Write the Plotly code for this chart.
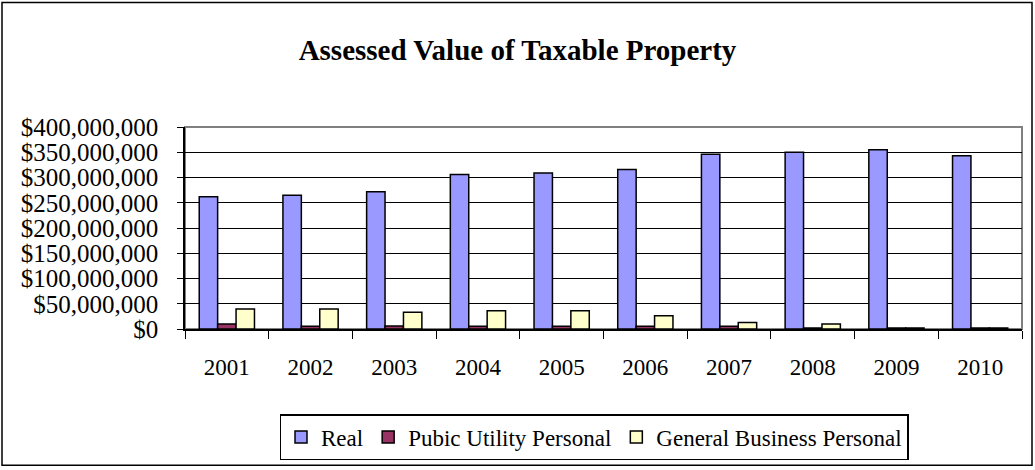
import plotly.graph_objects as go

years = ["2001", "2002", "2003", "2004", "2005", "2006", "2007", "2008", "2009", "2010"]
real = [262e6, 265e6, 272e6, 306e6, 309e6, 316e6, 346e6, 350e6, 355e6, 343e6]
public_utility = [10e6, 5.5e6, 6e6, 5.5e6, 5.5e6, 5.5e6, 5.5e6, 2e6, 2e6, 2e6]
general_business = [39.5e6, 39.5e6, 33e6, 36e6, 36e6, 26e6, 13e6, 10e6, 2e6, 2e6]
y_ticks = [0, 50e6, 100e6, 150e6, 200e6, 250e6, 300e6, 350e6, 400e6]
y_tick_labels = ["$0", "$50,000,000", "$100,000,000", "$150,000,000", "$200,000,000",
                 "$250,000,000", "$300,000,000", "$350,000,000", "$400,000,000"]

FONT = "Liberation Serif"
W, H = 1035, 470
ML, MR, MT, MB = 185, 13, 127, 140
pw, ph = W - ML - MR, H - MT - MB

fig = go.Figure()
for name, vals, col in [("Real", real, "#9999FF"),
                        ("Pubic Utility Personal", public_utility, "#993366"),
                        ("General Business Personal", general_business, "#FFFFCC")]:
    fig.add_trace(go.Bar(x=years, y=vals, name=name, marker_color=col,
                         marker_line_color="black", marker_line_width=1.5))

def px_to_paper_x(px):
    return (px - ML) / pw

def px_to_paper_y(py):
    return (H - MB - py) / ph

fig.update_layout(
    width=W, height=H,
    margin=dict(l=ML, r=MR, t=MT, b=MB),
    paper_bgcolor="white", plot_bgcolor="white",
    font=dict(family=FONT, color="black", size=20),
    title=dict(text="<b>Assessed Value of Taxable Property</b>",
               font=dict(family=FONT, size=29, color="black"),
               x=0.5, xanchor="center", y=1 - 50 / H, yanchor="middle"),
    barmode="group", bargap=0.34, bargroupgap=0,
    showlegend=True,
    legend=dict(orientation="h", x=px_to_paper_x(594), xanchor="center",
                y=px_to_paper_y(414), yanchor="top",
                bordercolor="black", borderwidth=1.5,
                font=dict(family=FONT, size=23, color="black"),
                itemwidth=30, traceorder="normal"),
    xaxis=dict(type="category", showgrid=False, showline=True, linecolor="black",
               linewidth=1.5, ticks="outside", ticklen=8, tickcolor="black",
               tickson="boundaries", tickfont=dict(family=FONT, size=23),
               ticklabelstandoff=17, zeroline=False),
    yaxis=dict(range=[0, 400e6], tickvals=y_ticks, ticktext=y_tick_labels,
               showgrid=True, gridcolor="black", gridwidth=1.3,
               showline=True, linecolor="black", linewidth=1.5,
               ticks="outside", ticklen=6, tickcolor="black",
               tickfont=dict(family=FONT, size=25), ticklabelstandoff=14,
               zeroline=False),
    shapes=[
        dict(type="rect", xref="paper", yref="paper", x0=0, x1=1, y0=0, y1=1,
             line=dict(color="#808080", width=2), layer="below"),
        dict(type="rect", xref="paper", yref="paper",
             x0=px_to_paper_x(2), x1=px_to_paper_x(1032),
             y0=px_to_paper_y(467), y1=px_to_paper_y(2),
             line=dict(color="black", width=1.5), layer="below"),
    ],
)

fig.write_html("out.html", config={"displayModeBar": False})

# remove the default body margin so the figure sits at the page origin
with open("out.html", "r", encoding="utf-8") as f:
    html = f.read()
html = html.replace("<head>", "<head><style>html,body{margin:0;padding:0;overflow:hidden;}</style>", 1)
with open("out.html", "w", encoding="utf-8") as f:
    f.write(html)
